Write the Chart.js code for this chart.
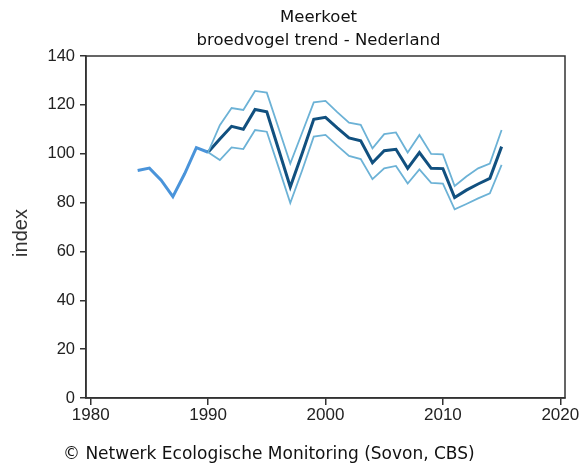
<!DOCTYPE html>
<html>
<head>
<meta charset="utf-8">
<script src="https://cdn.jsdelivr.net/npm/chart.js@4"></script>
<style>
html,body{margin:0;padding:0;background:#fff;}
#wrap{width:581px;height:466px;position:relative;}
</style>
</head>
<body>
<div id="wrap"><canvas id="c" width="581" height="466"></canvas></div>
<script>
// ---- data ----
const earlyYears = [1984, 1985, 1986, 1987, 1988, 1989, 1990];
const earlyIndex = [93.1, 94.1, 89.2, 82.4, 91.8, 102.5, 100.6];

const trendYears = [1990,1991,1992,1993,1994,1995,1996,1997,1998,1999,2000,2001,2002,2003,2004,2005,2006,2007,2008,2009,2010,2011,2012,2013,2014,2015];
const trendIndex = [100.6,106.0,111.2,110.0,118.1,117.2,101.8,86.4,100.0,114.1,114.9,110.6,106.5,105.3,96.3,101.2,101.8,94.0,100.5,94.0,93.9,82.1,85.1,87.6,89.9,102.9];
const upperIndex = [100.6,111.7,118.7,117.9,125.7,125.0,110.5,96.0,108.5,121.0,121.6,117.0,112.7,111.8,102.2,108.0,108.7,100.5,107.7,99.9,99.7,86.8,90.7,94.0,96.0,109.7];
const lowerIndex = [100.6,97.4,102.6,101.9,109.7,109.0,94.5,79.8,93.0,107.0,107.7,103.3,99.1,97.8,89.6,94.0,95.0,87.8,93.6,88.1,87.8,77.2,79.4,81.7,83.8,95.4];

const xTicks = [1980, 1990, 2000, 2010, 2020];
const yTicks = [0, 20, 40, 60, 80, 100, 120, 140];

const titleLines = ["Meerkoet", "broedvogel trend - Nederland"];
const yTitle = "index";
const footer = "\u00A9 Netwerk Ecologische Monitoring (Sovon, CBS)";

const pts = (xs, ys) => xs.map((x, i) => ({x: x, y: ys[i]}));

const framePlugin = {
  id: 'frame',
  afterDraw(chart) {
    const {ctx, chartArea: a} = chart;
    ctx.save();
    ctx.strokeStyle = '#333';
    ctx.lineWidth = 1.5;
    ctx.strokeRect(a.left, a.top, a.right - a.left, a.bottom - a.top);
    ctx.fillStyle = '#111';
    ctx.textAlign = 'center';
    ctx.textBaseline = 'middle';
    ctx.font = '16.5px "DejaVu Sans"';
    const cx = (a.left + a.right) / 2 - 7;
    ctx.fillText(titleLines[0], cx, 18);
    ctx.fillText(titleLines[1], cx, 41);
    ctx.textAlign = 'left';
    ctx.font = '17px "DejaVu Sans"';
    ctx.fillText(footer, 63, 455);
    // y axis title
    ctx.save();
    ctx.translate(21, 233);
    ctx.rotate(-Math.PI / 2);
    ctx.textAlign = 'center';
    ctx.fillStyle = '#333';
    ctx.font = '20px "Liberation Sans"';
    ctx.fillText(yTitle, 0, 0);
    ctx.restore();
    ctx.restore();
  }
};

new Chart(document.getElementById('c'), {
  type: 'line',
  data: {
    datasets: [
      {data: pts(trendYears, upperIndex), borderColor: '#6cb2d6', borderWidth: 1.8, pointRadius: 0, fill: false, tension: 0},
      {data: pts(trendYears, lowerIndex), borderColor: '#6cb2d6', borderWidth: 1.8, pointRadius: 0, fill: false, tension: 0},
      {data: pts(trendYears, trendIndex), borderColor: '#11507f', borderWidth: 3, pointRadius: 0, fill: false, tension: 0},
      {data: pts(earlyYears, earlyIndex), borderColor: '#4a94da', borderWidth: 3, pointRadius: 0, fill: false, tension: 0}
    ]
  },
  options: {
    responsive: false,
    animation: false,
    events: [],
    layout: {padding: {left: 0, right: 16, top: 56, bottom: 0}},
    plugins: {legend: {display: false}, title: {display: false}, tooltip: {enabled: false}},
    scales: {
      x: {
        type: 'linear',
        min: 1979.6,
        max: 2020.4,
        afterBuildTicks: s => { s.ticks = xTicks.map(v => ({value: v})); },
        afterFit: s => { s.height = 68; },
        grid: {drawOnChartArea: false, drawTicks: true, tickLength: 7, color: '#333', lineWidth: 1.5},
        border: {display: true, color: '#333', width: 1.5},
        ticks: {color: '#222', font: {family: '"Liberation Sans"', size: 17}, padding: 0, maxRotation: 0, callback: v => String(v)}
      },
      y: {
        min: 0,
        max: 140,
        afterBuildTicks: s => { s.ticks = yTicks.map(v => ({value: v})); },
        afterFit: s => { s.width = 86; },
        grid: {drawOnChartArea: false, drawTicks: true, tickLength: 6, color: '#333', lineWidth: 1.5},
        border: {display: true, color: '#333', width: 1.5},
        ticks: {color: '#222', font: {family: '"Liberation Sans"', size: 16.5}, padding: 5}
      }
    }
  },
  plugins: [framePlugin]
});
</script>
</body>
</html>
